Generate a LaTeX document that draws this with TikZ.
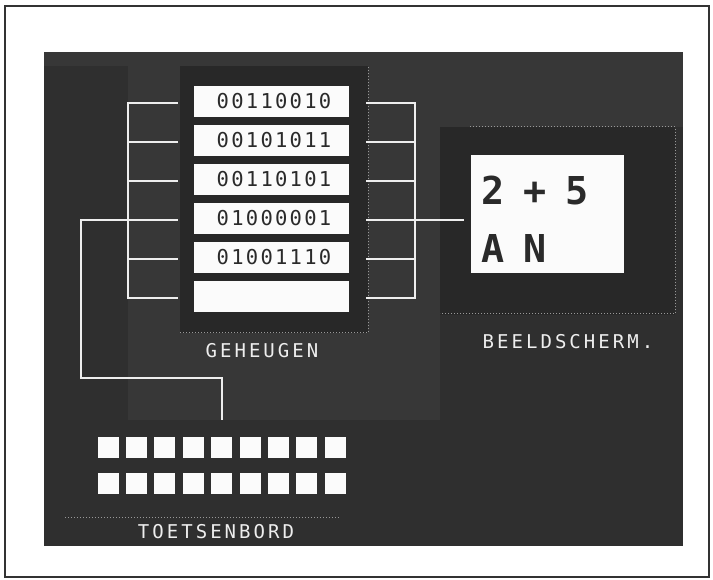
\documentclass[tikz,border=0pt]{standalone}
\usepackage{fontspec}
\usepackage{xcolor}
\usetikzlibrary{positioning, calc}

\newfontfamily\bitfont[LetterSpace=11]{DejaVu Sans Mono}
\newfontfamily\capfont[LetterSpace=16]{DejaVu Sans Mono}
\newfontfamily\scrfont[LetterSpace=-11]{DejaVu Sans Mono}

\definecolor{paneldark}{HTML}{2F2F2F}
\definecolor{panellight}{HTML}{373737}
\definecolor{boxdark}{HTML}{282828}
\definecolor{wirewhite}{HTML}{EEEEEE}
\definecolor{cellwhite}{HTML}{FBFBFB}
\definecolor{inkgray}{HTML}{2A2A2A}
\definecolor{framegray}{HTML}{333333}

\begin{document}
\begin{tikzpicture}[x=1pt, y=-1pt,
    wire/.style={draw=wirewhite, line width=1.6pt, line cap=rect},
    cell/.style={fill=cellwhite, minimum width=155pt, minimum height=31pt, inner sep=0pt},
    bits/.style={font=\bitfont\fontsize{20.5}{20.5}\selectfont, text=inkgray, inner sep=0pt},
    key/.style={fill=cellwhite, minimum size=21pt, inner sep=0pt},
    screentext/.style={font=\scrfont\bfseries\fontsize{38.4}{38.4}\selectfont, text=inkgray, inner sep=0pt},
    caption/.style={font=\capfont\fontsize{19}{19}\selectfont, text=wirewhite, inner sep=0pt},
    dotline/.style={draw=gray!80, line width=1pt, dotted}]
    \useasboundingbox (0,0) rectangle (713,580);

    % Page and outer frame
    \fill[white] (0,0) rectangle (713,580);
    \draw[framegray, line width=1.8pt] (5,6) rectangle (709,577);

    % Dark panel with its lighter (speckled) zones
    \fill[paneldark] (44,52) rectangle (683,546);
    \fill[panellight] (44,52) rectangle (683,66);
    \fill[panellight] (368,52) rectangle (683,127);
    \fill[panellight] (128,66) rectangle (180,420);
    \fill[panellight] (368,66) rectangle (440,420);
    \fill[panellight] (180,333) rectangle (368,420);

    % Memory (geheugen)
    \fill[boxdark] (180,66) rectangle (368,333);
    \draw[dotline] (180,333) -- (368,333) -- (368,66);
    \foreach \i/\b in {1/00110010, 2/00101011, 3/00110101, 4/01000001, 5/01001110, 6/} {
        \node[cell] (cell\i) at (271,{101.5+39*(\i-1)}) {};
        \node[bits] (bits\i) at ([xshift=3pt]cell\i) {\b};
        \coordinate (ltap\i) at (128,{103+39*(\i-1)});
        \coordinate (lend\i) at (177,{103+39*(\i-1)});
        \coordinate (rend\i) at (367,{103+39*(\i-1)});
        \coordinate (rtap\i) at (415,{103+39*(\i-1)});
        \draw[wire] (ltap\i) -- (lend\i);
        \draw[wire] (rend\i) -- (rtap\i);
    }
    \draw[wire] (ltap1) -- (ltap6);
    \draw[wire] (rtap1) -- (rtap6);

    % Monitor (beeldscherm)
    \fill[boxdark] (440,127) rectangle (675,315);
    \draw[dotline] (470,127) -- (675,127) -- (675,314) -- (440,314);
    \node[fill=cellwhite, minimum width=153pt, minimum height=118pt, inner sep=0pt] (screen) at (547.5,214) {};
    \node[screentext, anchor=base west] (line1) at (481,205) {2 + 5};
    \node[screentext, anchor=base west] (line2) at (481,263) {A N};

    % Links to keyboard and screen
    \coordinate (kturn) at (81,378);
    \coordinate (kfeed) at (222,419);
    \draw[wire] (ltap4) -| (kturn) -| (kfeed);
    \coordinate (sfeed) at (463,220);
    \draw[wire] (rtap4) -- (sfeed);

    % Keyboard (toetsenbord)
    \foreach \r/\y in {1/447.5, 2/483}
        \foreach \c in {0,...,8}
            \node[key] (key\r\c) at ({108+28.4*\c},\y) {};
    \draw[dotline] (65,517) -- (340,517);

    % Captions
    \node[caption] (memlabel) at (262,351) {GEHEUGEN};
    \node[caption] (scrlabel) at (568,342) {BEELDSCHERM.};
    \node[caption] (kbdlabel) at (216,532) {TOETSENBORD};
\end{tikzpicture}
\end{document}
